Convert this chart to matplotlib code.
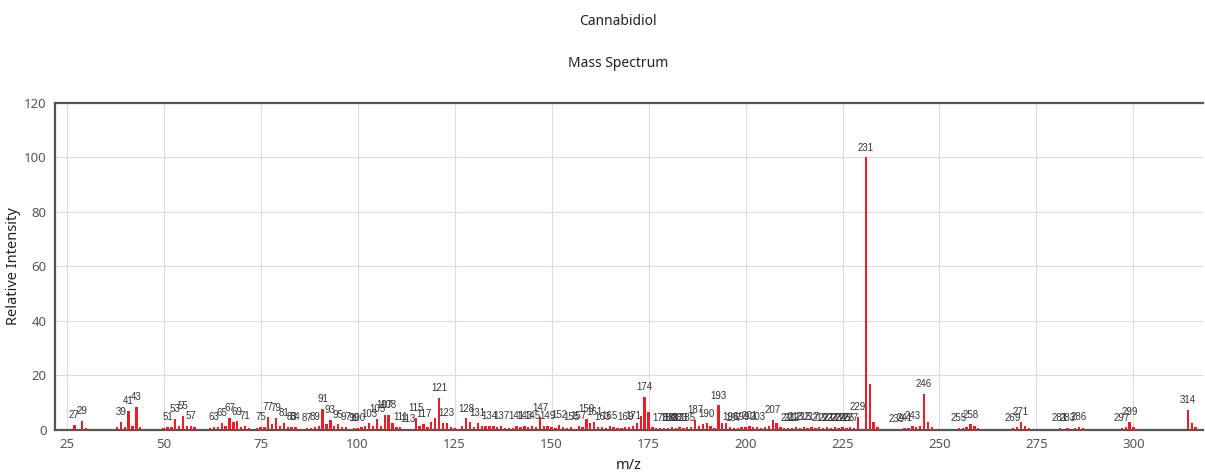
import matplotlib
matplotlib.use("Agg")
import matplotlib.pyplot as plt

plt.rcParams.update({
    "font.family": ["Noto Sans", "DejaVu Sans"],
    "font.size": 9.5,
})

# peak list (m/z, relative intensity)
MZ = [27, 29, 30, 38, 39, 40, 41, 42, 43, 44,
      50, 51, 52, 53, 54, 55, 56, 57, 58,
      62, 63, 64, 65, 66, 67, 68, 69, 70, 71, 72,
      74, 75, 76, 77, 78, 79, 80, 81, 82, 83, 84, 85, 86,
      87, 88, 89, 90, 91, 92, 93, 94, 95, 96, 97, 98, 99, 100,
      101, 102, 103, 104, 105, 106, 107, 108, 109, 110,
      111, 112, 113, 114, 115, 116, 117, 118, 119, 120,
      121, 122, 123, 124, 125, 126, 127, 128, 129, 130,
      131, 132, 133, 134, 135, 136, 137, 138, 139, 140,
      141, 142, 143, 144, 145, 146, 147, 148, 149, 150,
      151, 152, 153, 154, 155, 156, 157, 158, 159, 160,
      161, 162, 163, 164, 165, 166, 167, 168, 169, 170,
      171, 172, 173, 174, 175, 176, 177, 178, 179, 180,
      181, 182, 183, 184, 185, 186, 187, 188, 189, 190,
      191, 192, 193, 194, 195, 196, 197, 198, 199, 200,
      201, 202, 203, 204, 205, 206, 207, 208, 209, 210,
      211, 212, 213, 214, 215, 216, 217, 218, 219, 220,
      221, 222, 223, 224, 225, 226, 227, 228, 229, 230,
      231, 232, 233, 234, 239, 241, 242, 243, 244, 245,
      246, 247, 248, 255, 256, 257, 258, 259, 260,
      269, 270, 271, 272, 273, 281, 283, 285, 286, 287,
      297, 298, 299, 300, 301, 314, 315, 316]
INTENSITY = [1.8, 3.3, 0.8, 1.0, 2.8, 1.0, 7.0, 1.5, 8.3, 1.0,
             0.8, 1.2, 1.0, 4.0, 1.5, 5.1, 1.5, 1.6, 1.0,
             0.6, 1.0, 1.0, 2.6, 1.5, 4.5, 3.0, 3.1, 1.0, 1.5, 0.8,
             0.6, 1.0, 1.0, 4.9, 2.0, 4.3, 1.5, 2.5, 1.0, 1.0, 1.0, 0.5, 0.5,
             0.8, 0.8, 1.0, 1.3, 7.6, 2.0, 3.6, 1.5, 2.0, 1.0, 1.0, 0.5, 0.8, 0.8,
             1.0, 1.5, 2.4, 1.5, 4.0, 1.5, 5.4, 5.4, 2.4, 1.0,
             1.0, 0.3, 0.5, 0.3, 4.5, 1.6, 2.2, 1.0, 3.0, 4.5,
             11.8, 2.5, 2.6, 1.0, 0.7, 0.5, 1.5, 4.2, 3.0, 1.0,
             2.5, 1.4, 1.6, 1.6, 1.6, 1.0, 1.6, 0.6, 0.6, 0.6,
             1.6, 1.2, 1.5, 1.2, 1.6, 1.0, 4.6, 1.6, 1.6, 1.0,
             0.8, 1.8, 1.0, 0.8, 1.0, 0.5, 1.6, 1.0, 4.0, 2.5,
             3.0, 1.0, 1.0, 0.8, 1.5, 1.0, 0.8, 0.8, 1.0, 1.0,
             1.5, 2.4, 5.0, 12.2, 6.5, 1.0, 0.8, 0.8, 0.8, 0.8,
             0.9, 0.8, 0.9, 0.7, 0.9, 1.0, 3.6, 1.5, 2.2, 2.4,
             1.5, 0.8, 9.0, 2.5, 2.6, 1.0, 0.8, 0.8, 1.0, 0.9,
             1.4, 1.0, 1.0, 0.8, 1.0, 1.5, 3.6, 2.4, 1.0, 0.8,
             0.8, 0.8, 1.0, 0.8, 1.0, 0.8, 1.2, 0.8, 0.9, 0.8,
             0.9, 0.8, 0.9, 0.8, 0.9, 0.8, 0.9, 0.8, 4.8, 0.5,
             100.0, 17.0, 3.0, 1.0, 0.5, 0.6, 0.8, 1.6, 1.0, 1.5,
             13.2, 3.0, 1.0, 0.6, 0.8, 1.2, 2.0, 1.6, 0.8,
             0.8, 1.0, 2.8, 1.5, 0.8, 0.6, 0.6, 0.8, 1.1, 0.6,
             0.8, 1.0, 3.0, 1.2, 0.5, 7.2, 2.5, 1.0]

LABELED = [27, 29, 39, 41, 43, 51, 53, 55, 57, 63, 65, 67, 69, 71,
           75, 77, 79, 81, 83, 84, 87, 89, 91, 93, 95, 97, 99, 100,
           103, 105, 107, 108, 111, 113, 115, 117, 121, 123, 128, 131,
           134, 137, 141, 143, 145, 147, 149, 152, 155, 157, 159, 161,
           163, 165, 169, 171, 174, 178, 180, 181, 182, 183, 185, 187,
           190, 193, 196, 197, 199, 201, 203, 207, 211, 212, 213, 215,
           217, 219, 221, 222, 223, 224, 225, 226, 227, 229, 231, 239,
           241, 243, 246, 255, 258, 269, 271, 281, 283, 286, 297, 299, 314]

RED = "#ee1c25"
SPINE = "#555555"

fig = plt.figure(figsize=(12.05, 4.74), dpi=100)
ax = fig.add_axes([0.0456, 0.093, 0.953, 0.690])

ax.bar(MZ, INTENSITY, width=0.6, color=RED, zorder=3)

peak = dict(zip(MZ, INTENSITY))
for m in LABELED:
    ax.annotate(str(m), (m, peak[m]), xytext=(0, 3.5), textcoords="offset points",
                ha="center", va="bottom", fontsize=7, color="#333333",
                family=["Liberation Sans", "DejaVu Sans"], zorder=4)

ax.set_xlim(22, 318)
ax.set_ylim(0, 120)
ax.set_xticks(range(25, 301, 25))
ax.set_yticks(range(0, 121, 20))
ax.grid(True, color="#dddddd", lw=0.8, zorder=0)
ax.tick_params(length=0, colors="#555555", labelsize=9.5, pad=6)

for s in ["left", "top", "bottom"]:
    ax.spines[s].set_color(SPINE)
    ax.spines[s].set_linewidth(1.6)
ax.spines["right"].set_visible(False)

ax.set_ylabel("Relative Intensity", fontsize=10.5, color="#222222", labelpad=2)
ax.set_xlabel("m/z", fontsize=10.5, color="#222222", labelpad=5)

fig.text(0.513, 0.955, "Cannabidiol", ha="center", va="center", fontsize=10, color="#222222")
fig.text(0.513, 0.866, "Mass Spectrum", ha="center", va="center", fontsize=10, color="#222222")

fig.savefig("out.png", dpi=100)
